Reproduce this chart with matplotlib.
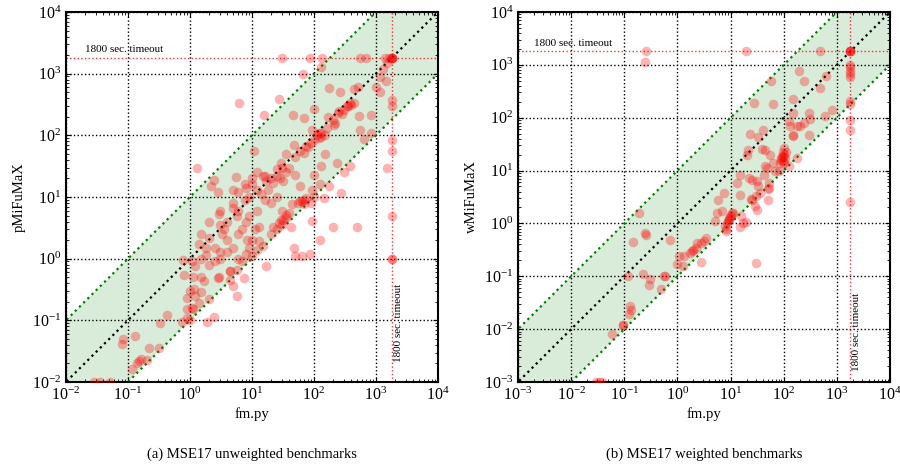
import numpy as np
import matplotlib.pyplot as plt

plt.rcParams['font.family'] = 'serif'
plt.rcParams['font.serif'] = ['Liberation Serif', 'DejaVu Serif']
plt.rcParams['mathtext.fontset'] = 'stix'

# timeout in seconds
TIMEOUT = 1800

# (a) unweighted: run times of fm.py vs pMiFuMaX (seconds)
unw_pts = [
    (30, 1800), (87, 1800), (135, 1800), (560, 1800), (680, 1800), (1400, 1800),
    (1600, 1800), (1800, 1800), (1800, 1800), (1800, 1800), (1800, 1800),
    (66, 1000), (128, 1300), (1300, 1170), (1150, 870), (1450, 760), (1020, 600),
    (1150, 500), (1500, 1500), (175, 590), (265, 510), (450, 560), (520, 600),
    (27, 390), (6.2, 330), (15.6, 210), (46, 210), (69, 190), (100, 265),
    (340, 295), (380, 330), (525, 205), (830, 210), (245, 230), (210, 148),
    (550, 123), (820, 110), (630, 87), (1500, 30), (380, 32),
    (130, 94), (94, 120), (100, 85), (120, 110), (110, 100), (74, 66), (47, 70),
    (69, 51), (35, 49), (29, 36), (25, 28), (16, 22), (17, 18), (10, 16), (10.8, 55),
    (100, 23), (128, 32), (150, 49), (235, 36), (300, 25), (126, 16), (94, 13),
    (100, 10), (60, 15), (50, 23), (175, 15), (275, 11.5), (145, 9.5), (89, 8),
    (60, 8.5), (45, 7.6), (55, 8), (70, 9),
    (36, 5.1), (29, 4.3), (22, 3.3), (42, 3.3), (94, 4.1), (126, 2.0), (205, 3.2),
    (500, 3.3), (47, 1.5), (50, 1.1), (65, 1.1), (85, 1.2), (16.6, 0.75),
    (13, 1.9), (8.3, 2.0), (11, 3.0), (13, 3.2), (5.7, 4.9), (5.0, 6.6), (7.8, 9.1),
    (12, 13), (5.0, 13), (5.5, 21), (7.7, 16), (2.4, 19), (2.2, 15), (2.8, 12),
    (1.3, 30), (2.9, 5.2),
    (3.3, 2.5), (3.1, 1.3), (1.8, 1.15), (1.4, 1.7), (2.0, 0.8), (1.07, 0.9),
    (0.76, 0.95), (4.4, 0.62), (4.4, 0.62), (2.9, 0.5), (2.8, 0.48), (4.5, 0.45),
    (5.7, 0.66), (5.0, 0.36), (7.4, 0.49), (5.7, 0.25), (1.1, 0.51), (1.67, 0.43),
    (1.5, 0.29), (1.15, 0.32), (0.9, 0.23), (1.4, 0.19), (2.0, 0.22), (2.4, 0.115),
    (1.9, 0.095), (1.07, 0.16), (0.9, 0.11), (0.74, 0.095), (0.43, 0.12),
    (0.33, 0.091), (1.0, 0.1), (1.1, 0.15),
    (0.32, 0.035), (0.22, 0.035), (0.13, 0.055), (0.083, 0.049), (0.080, 0.041),
    (0.14, 0.020), (0.15, 0.022), (0.16, 0.024), (0.115, 0.016), (0.2, 0.023),
    (0.028, 0.01), (0.035, 0.01), (0.052, 0.01),
    (1800, 380), (1800, 295), (1800, 85), (1800, 55), (1800, 5.0),
    (1800, 1.0), (1800, 1.0),
    (20, 20), (25, 22), (30, 30), (18, 13), (22, 17), (35, 25), (40, 30), (50, 45),
    (60, 55), (80, 65), (90, 75), (130, 110), (150, 100), (160, 130), (200, 180),
    (220, 160), (280, 220), (300, 260), (350, 300), (400, 310), (450, 330),
    (250, 250), (170, 200), (120, 90), (28, 20), (32, 18), (14, 11), (16, 9),
    (20, 8), (25, 10), (30, 6), (35, 4.5), (40, 5.5), (12, 6), (9, 5), (8, 4),
    (7, 3), (6, 2.5), (10, 2), (9, 1.5), (8, 1.2), (6, 1.0), (5, 1.5), (4, 2),
    (3.5, 3), (3, 1.0), (2.5, 0.9), (4, 1.3), (7, 0.9), (10, 1.1), (12, 1.4),
    (15, 1.6), (20, 2.5), (25, 3), (30, 3.5), (32, 4.2), (27, 3.8), (65, 8.5),
    (70, 7.8), (75, 9.5), (1.5, 1.0), (1.2, 0.75), (0.8, 0.55), (1.0, 0.3),
    (0.9, 0.15), (1.2, 0.25), (1.5, 0.5), (2.5, 1.5), (2, 2.2), (1.8, 1.5),
    (3, 3.5), (4, 4), (5, 8), (6, 12), (8, 14), (10, 20), (12, 25), (15, 22),
    (9, 10), (6, 6), (3, 6), (2, 4), (1.5, 2.5),
]

# (b) weighted: run times of fm.py vs wMiFuMaX (seconds)
wgt_pts = [
    (0.26, 1800), (0.25, 1120), (19.5, 1800), (480, 1800),
    (1800, 1800), (1800, 1800), (1800, 1800), (1800, 1800),
    (1800, 1000), (1800, 900), (1800, 680), (1800, 590), (1800, 750),
    (1800, 205), (1800, 180), (1800, 92), (1800, 59), (1800, 2.5),
    (196, 760), (58, 490), (245, 500), (480, 360), (630, 620), (150, 225),
    (28, 186), (64, 182),
    (800, 142), (590, 110), (300, 124), (315, 94), (150, 123), (123, 85),
    (130, 69), (175, 71), (240, 78), (200, 70),
    (305, 48), (148, 48), (150, 45), (23, 49), (40, 59), (33, 44),
    (100, 27), (95, 22), (21.5, 25), (20, 20), (39, 25.7), (45, 25), (55, 20),
    (62, 14), (45, 12),
    (85, 14), (90, 16), (95, 18), (100, 20), (105, 17), (110, 22), (98, 15),
    (92, 19), (100, 14), (88, 17),
    (175, 17), (123, 12), (69, 9.6), (80, 10), (15, 8.3), (13, 5.8), (22, 7.2),
    (25, 6.5), (32, 6.3), (33, 5.0), (36, 3.8), (30, 3.3), (25, 2.8), (24, 2.9),
    (15, 3.5), (53, 4.7), (50, 4.5), (51, 2.8), (52, 5.7), (43, 8.3), (48, 11),
    (29, 2.1), (31, 1.8), (30, 0.18), (16, 1.4), (15, 0.87), (17, 1.0),
    (19.5, 1.05),
    (7.6, 3.8), (5.8, 2.8), (5.5, 1.6), (6.9, 1.7), (5.1, 1.1),
    (7.9, 0.9), (8.5, 1.0), (9.2, 1.17), (9.8, 1.35), (10.5, 1.58), (11, 1.6),
    (8.1, 0.71), (8.8, 1.1), (9.5, 1.25), (8.2, 0.8), (10, 1.45),
    (3.1, 0.46), (3.5, 0.53), (2.3, 0.43), (2.2, 0.34), (1.75, 0.28), (2.0, 0.32),
    (1.9, 0.3), (2.8, 0.43), (2.8, 0.19),
    (1.35, 0.24), (1.05, 0.24), (0.98, 0.17), (1.26, 0.155),
    (0.71, 0.48), (0.25, 0.65), (0.26, 0.6), (0.145, 0.44), (0.19, 1.6),
    (0.59, 0.1), (0.57, 0.1), (0.48, 0.058), (0.30, 0.087), (0.29, 0.069),
    (0.22, 0.11), (0.117, 0.10),
    (0.128, 0.027), (0.135, 0.023), (0.123, 0.019), (0.093, 0.012), (0.095, 0.012),
    (0.059, 0.008), (0.029, 0.001), (0.038, 0.001), (0.033, 0.001),
]

captions = ['(a) MSE17 unweighted benchmarks', '(b) MSE17 weighted benchmarks']
ylabels = ['pMiFuMaX', 'wMiFuMaX']
lows = [1e-2, 1e-3]


def draw(ax, pts, lo, ylabel):
    pts = np.array(pts, dtype=float)
    hi = 1e4
    xs = np.array([lo / 10, hi * 10])
    ax.fill_between(xs, xs / 10, xs * 10, color='green', alpha=0.15, lw=0, zorder=1)
    ax.plot(xs, xs * 10, color='green', ls=':', lw=1.6, zorder=2)
    ax.plot(xs, xs / 10, color='green', ls=':', lw=1.6, zorder=2)
    ax.plot(xs, xs, color='black', ls=':', lw=1.6, zorder=2)
    ax.axhline(TIMEOUT, color='red', ls=':', lw=1, alpha=0.8, zorder=2)
    ax.axvline(TIMEOUT, color='red', ls=':', lw=1, alpha=0.8, zorder=2)
    ax.scatter(pts[:, 0], pts[:, 1], s=48, color='red', alpha=0.3, lw=0, zorder=3)
    ax.set_xscale('log')
    ax.set_yscale('log')
    ax.set_xlim(lo, hi)
    ax.set_ylim(lo, hi)
    ax.grid(True, which='major', color='black', ls=':', lw=1)
    ax.tick_params(which='both', direction='in', top=True, right=True, labelsize=11.5)
    for s in ax.spines.values():
        s.set_linewidth(1.5)
    ax.set_xlabel('fm.py', fontsize=10.5, labelpad=2)
    ax.set_ylabel(ylabel, fontsize=10.5)
    # timeout annotations
    ax.text(lo * 2, 2500, '1800 sec. timeout', fontsize=8, ha='left', va='center')
    ax.text(2300, lo * 10 ** 0.95, '1800 sec. timeout', fontsize=8,
            rotation=90, ha='center', va='center')


fig = plt.figure(figsize=(9, 4.68), dpi=100)
ax1 = fig.add_axes([0.0733, 0.1838, 0.4133, 0.7906])
ax2 = fig.add_axes([0.5756, 0.1838, 0.4133, 0.7906])

draw(ax1, unw_pts, lows[0], ylabels[0])
draw(ax2, wgt_pts, lows[1], ylabels[1])

fig.text(0.28, 0.03, captions[0], ha='center', va='center', fontsize=10.5)
fig.text(0.782, 0.03, captions[1], ha='center', va='center', fontsize=10.5)

fig.savefig('out.png', dpi=100)
